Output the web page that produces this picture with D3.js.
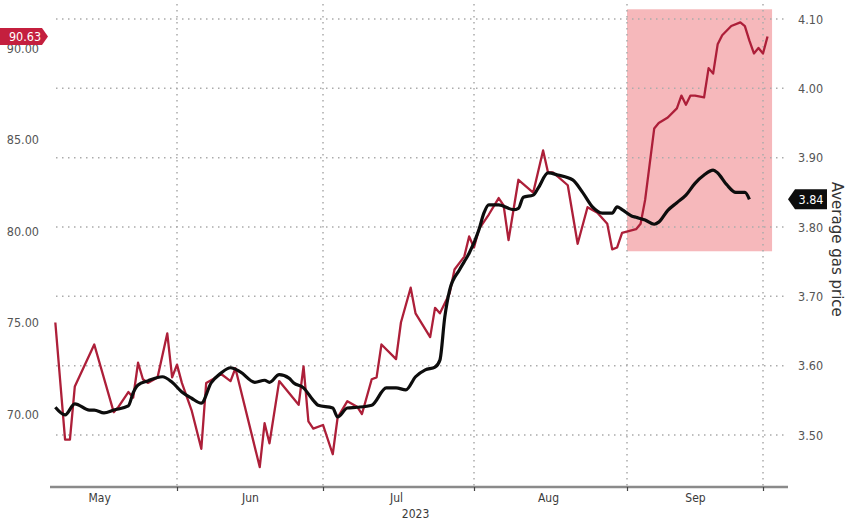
<!DOCTYPE html>
<html>
<head>
<meta charset="utf-8">
<script src="https://cdn.jsdelivr.net/npm/d3@7"></script>
<style>
  html, body { margin: 0; padding: 0; background: #ffffff; }
  svg { display: block; }
  text { font-family: "DejaVu Sans", "Noto Sans", sans-serif; }
</style>
</head>
<body>
<svg id="chart" width="848" height="524"></svg>
<script>
// ---------------- DATA ----------------
// Crude oil price (left axis, $/bbl)
const oilDates = ["2023-05-07","2023-05-09","2023-05-10","2023-05-11","2023-05-15","2023-05-19","2023-05-20","2023-05-22","2023-05-23","2023-05-24","2023-05-25","2023-05-26","2023-05-28","2023-05-30","2023-05-31",
"2023-06-01","2023-06-02","2023-06-04","2023-06-06","2023-06-07","2023-06-09","2023-06-10","2023-06-12","2023-06-13","2023-06-18","2023-06-19","2023-06-20","2023-06-22","2023-06-26","2023-06-27","2023-06-28","2023-06-29",
"2023-07-01","2023-07-03","2023-07-04","2023-07-06","2023-07-08","2023-07-09","2023-07-11","2023-07-12","2023-07-13","2023-07-16","2023-07-17","2023-07-19","2023-07-20","2023-07-23","2023-07-24","2023-07-25","2023-07-27","2023-07-28","2023-07-30","2023-07-31",
"2023-08-01","2023-08-02","2023-08-04","2023-08-06","2023-08-07","2023-08-08","2023-08-10","2023-08-13","2023-08-15","2023-08-16","2023-08-17","2023-08-20","2023-08-22","2023-08-24","2023-08-26","2023-08-28","2023-08-29","2023-08-30","2023-08-31",
"2023-09-03","2023-09-04","2023-09-05","2023-09-07","2023-09-08","2023-09-10","2023-09-12","2023-09-13","2023-09-14","2023-09-15","2023-09-16","2023-09-18","2023-09-19","2023-09-20","2023-09-21","2023-09-22","2023-09-24","2023-09-26","2023-09-27","2023-09-28","2023-09-29","2023-09-30","2023-10-01","2023-10-02"];
const oilValues = [75.0,68.6,68.6,71.5,73.8,70.1,70.4,71.2,70.9,72.8,71.9,71.7,72.0,74.4,72.0,
72.7,71.7,70.2,68.1,71.7,72.0,72.2,71.8,72.5,67.1,69.5,68.4,71.8,70.5,72.6,69.6,69.2,
69.4,67.8,69.8,70.7,70.4,70.0,71.9,72.0,73.8,73.0,75.0,76.9,75.5,74.2,75.8,75.5,76.6,77.9,78.6,79.7,
79.1,80.1,80.9,81.8,81.4,79.5,82.8,82.1,84.4,83.2,83.2,82.5,79.3,81.3,81.0,80.4,79.0,79.1,79.9,
80.1,80.4,81.7,85.6,85.9,86.2,86.7,87.4,86.9,87.4,87.4,87.3,88.9,88.6,90.2,90.7,91.2,91.4,91.2,90.4,89.7,90.0,89.7,90.63];

// Average gas price (right axis, $/gal)
const gasDates = ["2023-05-07","2023-05-09","2023-05-11","2023-05-14","2023-05-15","2023-05-17","2023-05-19","2023-05-22","2023-05-23","2023-05-24","2023-05-26","2023-05-29","2023-05-31",
"2023-06-02","2023-06-04","2023-06-06","2023-06-08","2023-06-10","2023-06-12","2023-06-14","2023-06-17","2023-06-19","2023-06-20","2023-06-22","2023-06-24","2023-06-25","2023-06-27","2023-06-29","2023-06-30",
"2023-07-03","2023-07-04","2023-07-06","2023-07-08","2023-07-11","2023-07-14","2023-07-16","2023-07-18","2023-07-20","2023-07-22","2023-07-24","2023-07-25","2023-07-26","2023-07-27","2023-07-29","2023-07-30","2023-07-31",
"2023-08-02","2023-08-03","2023-08-04","2023-08-06","2023-08-09","2023-08-10","2023-08-11","2023-08-13","2023-08-14","2023-08-16","2023-08-18","2023-08-21","2023-08-23","2023-08-25","2023-08-27","2023-08-29","2023-08-30","2023-08-31",
"2023-09-02","2023-09-03","2023-09-05","2023-09-07","2023-09-08","2023-09-10","2023-09-12","2023-09-14","2023-09-16","2023-09-18","2023-09-20","2023-09-21","2023-09-23","2023-09-25","2023-09-27","2023-09-28"];
const gasValues = [3.540,3.529,3.545,3.536,3.536,3.532,3.536,3.542,3.561,3.572,3.578,3.584,3.576,
3.562,3.553,3.546,3.575,3.589,3.597,3.591,3.576,3.579,3.576,3.587,3.582,3.575,3.568,3.550,3.543,
3.539,3.526,3.539,3.540,3.543,3.568,3.568,3.565,3.584,3.594,3.598,3.608,3.670,3.709,3.738,3.750,3.762,
3.796,3.820,3.832,3.832,3.825,3.827,3.843,3.846,3.856,3.878,3.875,3.868,3.850,3.829,3.820,3.820,3.829,3.825,
3.816,3.814,3.810,3.804,3.807,3.824,3.835,3.846,3.863,3.875,3.882,3.878,3.861,3.850,3.850,3.840];

// Axis ticks / labels
const monthTickDates = ["2023-06-01","2023-07-01","2023-08-01","2023-09-01","2023-10-01"];
const monthLabelDates = ["2023-05-16","2023-06-16","2023-07-16","2023-08-16","2023-09-16"];
const yearLabel = "2023";
const yearLabelDate = "2023-07-20";
const leftTicks = [70, 75, 80, 85, 90];
const rightTicks = [3.50, 3.60, 3.70, 3.80, 3.90, 4.00, 4.10];
const rightTitle = "Average gas price";
const oilLast = 90.63;
const gasLast = 3.84;
// Highlighted period
const highlightDates = ["2023-09-01", "2023-10-03"];
const highlightGas = [3.765, 4.114];

// ---------------- SCALES ----------------
const parse = d3.timeParse("%Y-%m-%d");
const svg = d3.select("#chart");

const x = d3.scaleTime()
  .domain(monthTickDates.map(parse))
  .range([177, 323, 474, 627, 763]);
const yL = d3.scaleLinear().domain([70, 80]).range([414, 231]);
const yR = d3.scaleLinear().domain([3.5, 4.1]).range([435, 19]);

const oil = oilDates.map((d, i) => ({ date: parse(d), v: oilValues[i] }));
const gas = gasDates.map((d, i) => ({ date: parse(d), v: gasValues[i] }));

// ---------------- HIGHLIGHT ----------------
svg.append("rect")
  .attr("x", x(parse(highlightDates[0])))
  .attr("width", x(parse(highlightDates[1])) - x(parse(highlightDates[0])))
  .attr("y", yR(highlightGas[1]))
  .attr("height", yR(highlightGas[0]) - yR(highlightGas[1]))
  .attr("fill", "#f6b8bb");

// ---------------- GRID ----------------
const grid = svg.append("g").attr("stroke", "#ababab").attr("stroke-width", 1.5)
  .attr("stroke-dasharray", "1.5,4.5").attr("fill", "none");
grid.selectAll("line.h").data(rightTicks).join("line")
  .attr("class", "h")
  .attr("x1", 56).attr("x2", 786)
  .attr("y1", d => yR(d)).attr("y2", d => yR(d));
grid.selectAll("line.v").data(monthTickDates).join("line")
  .attr("class", "v")
  .attr("x1", d => x(parse(d))).attr("x2", d => x(parse(d)))
  .attr("y1", 4).attr("y2", 486);

// ---------------- X AXIS ----------------
svg.append("line")
  .attr("x1", 50).attr("x2", 788).attr("y1", 487).attr("y2", 487)
  .attr("stroke", "#8a8a8a").attr("stroke-width", 2.5);

const xTickAxis = d3.axisBottom(x).tickValues(monthTickDates.map(parse)).tickSize(4).tickFormat("");
const gxt = svg.append("g").attr("transform", "translate(0,487)").call(xTickAxis);
gxt.select(".domain").remove();
gxt.selectAll(".tick line").attr("stroke", "#444").attr("stroke-width", 1.2);

const xLabelAxis = d3.axisBottom(x).tickValues(monthLabelDates.map(parse))
  .tickSize(0).tickPadding(6).tickFormat(d3.timeFormat("%b"));
const gxl = svg.append("g").attr("transform", "translate(0,487)").call(xLabelAxis);
gxl.select(".domain").remove();
gxl.selectAll("text").attr("fill", "#3a3a3a").style("font-size", "12px")
  .style("font-family", "'DejaVu Sans Condensed','DejaVu Sans',sans-serif");

svg.append("text")
  .attr("x", x(parse(yearLabelDate))).attr("y", 518)
  .attr("text-anchor", "middle")
  .attr("fill", "#3a3a3a")
  .style("font-size", "12px")
  .style("font-family", "'DejaVu Sans Condensed','DejaVu Sans',sans-serif")
  .text(yearLabel);

// ---------------- LEFT AXIS ----------------
const gl = svg.append("g").attr("transform", "translate(40,0)")
  .call(d3.axisLeft(yL).tickValues(leftTicks).tickSize(0).tickPadding(1).tickFormat(d3.format(".2f")));
gl.select(".domain").remove();
gl.selectAll("text").attr("fill", "#555").style("font-size", "12.5px")
  .style("font-family", "'DejaVu Sans Condensed','DejaVu Sans',sans-serif");

// ---------------- RIGHT AXIS ----------------
const gr = svg.append("g").attr("transform", "translate(790,0)")
  .call(d3.axisRight(yR).tickValues(rightTicks).tickSize(0).tickPadding(8).tickFormat(d3.format(".2f")));
gr.select(".domain").remove();
gr.selectAll("text").attr("fill", "#555").style("font-size", "12.5px")
  .style("font-family", "'DejaVu Sans Condensed','DejaVu Sans',sans-serif");

svg.append("text")
  .attr("transform", `translate(832, ${(yR(3.9) + yR(3.5)) / 2 - 47}) rotate(90)`)
  .attr("text-anchor", "middle")
  .attr("fill", "#333")
  .style("font-size", "15px")
  .text(rightTitle);

// ---------------- LINES ----------------
const oilLine = d3.line().x(d => x(d.date)).y(d => yL(d.v));
const gasLine = d3.line().x(d => x(d.date)).y(d => yR(d.v)).curve(d3.curveMonotoneX);

svg.append("path").datum(oil)
  .attr("d", oilLine).attr("fill", "none")
  .attr("stroke", "#ad1f39").attr("stroke-width", 2.3).attr("stroke-linejoin", "round");

svg.append("path").datum(gas)
  .attr("d", gasLine).attr("fill", "none")
  .attr("stroke", "#0d0d0d").attr("stroke-width", 3.2).attr("stroke-linejoin", "round");

// ---------------- LAST-VALUE TAGS ----------------
// Oil tag (left)
const oy = yL(oilLast);
svg.append("path")
  .attr("d", `M0,${oy - 8.5} L42,${oy - 8.5} L48,${oy} L42,${oy + 8.5} L0,${oy + 8.5} Z`)
  .attr("fill", "#c41f3e");
svg.append("text")
  .attr("x", 25).attr("y", oy + 4.5)
  .attr("text-anchor", "middle").attr("fill", "#fff")
  .style("font-size", "12.5px")
  .style("font-family", "'DejaVu Sans Condensed','DejaVu Sans',sans-serif")
  .text(d3.format(".2f")(oilLast));

// Gas tag (right)
const gy = yR(gasLast);
svg.append("path")
  .attr("d", `M788,${gy} L795,${gy - 10} L827,${gy - 10} L827,${gy + 10} L795,${gy + 10} Z`)
  .attr("fill", "#0d0d0d");
svg.append("text")
  .attr("x", 811).attr("y", gy + 4.5)
  .attr("text-anchor", "middle").attr("fill", "#fff")
  .style("font-size", "12.5px")
  .style("font-family", "'DejaVu Sans Condensed','DejaVu Sans',sans-serif")
  .text(d3.format(".2f")(gasLast));
</script>
</body>
</html>
